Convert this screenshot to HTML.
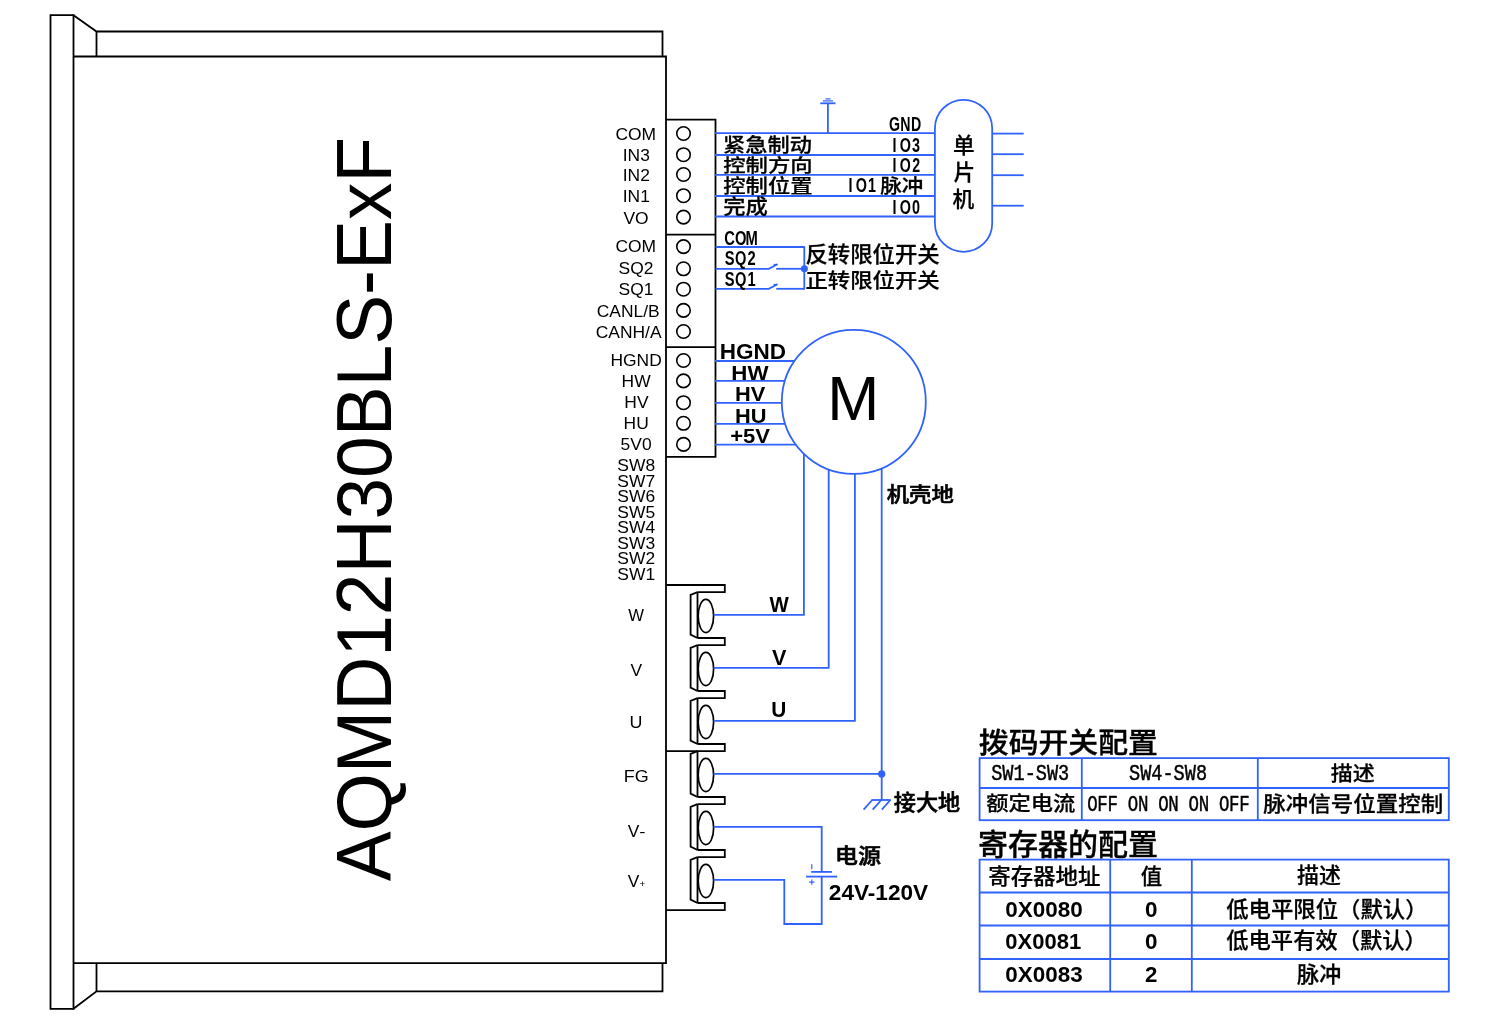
<!DOCTYPE html>
<html lang="zh-CN">
<head>
<meta charset="utf-8">
<title>AQMD12H30BLS-ExF 接线图</title>
<style>
html,body{margin:0;padding:0;background:#fff;}
body{width:1500px;height:1026px;overflow:hidden;}
svg{display:block;will-change:transform;}
text{fill:#000;}
</style>
</head>
<body>
<svg width="1500" height="1026" viewBox="0 0 1500 1026">
<rect width="1500" height="1026" fill="#fff"/>
<polyline points="73.5,15.2 50.5,15.2 50.5,1008.8 73.5,1008.8" stroke="#000" stroke-width="1.8" fill="none" />
<line x1="73.5" y1="14.3" x2="73.5" y2="1009.7" stroke="#000" stroke-width="1.8"/>
<polyline points="73.5,15.2 96.5,31.5 662.5,31.5 662.5,56.5" stroke="#000" stroke-width="1.8" fill="none" />
<line x1="96.5" y1="31.5" x2="96.5" y2="56.5" stroke="#000" stroke-width="1.8"/>
<polyline points="73.5,56.5 666,56.5 666,963.2 73.5,963.2" stroke="#000" stroke-width="1.8" fill="none" />
<polyline points="73.5,1008.8 96.5,991.3 662.5,991.3 662.5,963.2" stroke="#000" stroke-width="1.8" fill="none" />
<line x1="96.5" y1="991.3" x2="96.5" y2="963.2" stroke="#000" stroke-width="1.8"/>
<polyline points="666,119.7 715.5,119.7 715.5,456.8 666,456.8" stroke="#000" stroke-width="1.8" fill="none" />
<line x1="666" y1="234.6" x2="715.5" y2="234.6" stroke="#000" stroke-width="1.8"/>
<line x1="666" y1="347.2" x2="715.5" y2="347.2" stroke="#000" stroke-width="1.8"/>
<circle cx="683.5" cy="133.5" r="6.75" fill="none" stroke="#000" stroke-width="1.6"/>
<circle cx="683.5" cy="154.7" r="6.75" fill="none" stroke="#000" stroke-width="1.6"/>
<circle cx="683.5" cy="174.5" r="6.75" fill="none" stroke="#000" stroke-width="1.6"/>
<circle cx="683.5" cy="195.7" r="6.75" fill="none" stroke="#000" stroke-width="1.6"/>
<circle cx="683.5" cy="217.1" r="6.75" fill="none" stroke="#000" stroke-width="1.6"/>
<circle cx="683.5" cy="246.6" r="6.75" fill="none" stroke="#000" stroke-width="1.6"/>
<circle cx="683.5" cy="268.8" r="6.75" fill="none" stroke="#000" stroke-width="1.6"/>
<circle cx="683.5" cy="289.2" r="6.75" fill="none" stroke="#000" stroke-width="1.6"/>
<circle cx="683.5" cy="310.4" r="6.75" fill="none" stroke="#000" stroke-width="1.6"/>
<circle cx="683.5" cy="331.5" r="6.75" fill="none" stroke="#000" stroke-width="1.6"/>
<circle cx="683.5" cy="360.5" r="6.75" fill="none" stroke="#000" stroke-width="1.6"/>
<circle cx="683.5" cy="380.9" r="6.75" fill="none" stroke="#000" stroke-width="1.6"/>
<circle cx="683.5" cy="402.7" r="6.75" fill="none" stroke="#000" stroke-width="1.6"/>
<circle cx="683.5" cy="423.3" r="6.75" fill="none" stroke="#000" stroke-width="1.6"/>
<circle cx="683.5" cy="444.4" r="6.75" fill="none" stroke="#000" stroke-width="1.6"/>
<text transform="translate(635.8,140.4) scale(1.0500,1)" font-family='"Liberation Sans", sans-serif' font-size="16.6" font-weight="400" text-anchor="middle" >COM</text>
<text transform="translate(636.3,161.4) scale(1.0500,1)" font-family='"Liberation Sans", sans-serif' font-size="16.6" font-weight="400" text-anchor="middle" >IN3</text>
<text transform="translate(636.3,181.2) scale(1.0500,1)" font-family='"Liberation Sans", sans-serif' font-size="16.6" font-weight="400" text-anchor="middle" >IN2</text>
<text transform="translate(636.3,202) scale(1.0500,1)" font-family='"Liberation Sans", sans-serif' font-size="16.6" font-weight="400" text-anchor="middle" >IN1</text>
<text transform="translate(636,223.5) scale(1.0500,1)" font-family='"Liberation Sans", sans-serif' font-size="16.6" font-weight="400" text-anchor="middle" >VO</text>
<text transform="translate(635.8,251.8) scale(1.0500,1)" font-family='"Liberation Sans", sans-serif' font-size="16.6" font-weight="400" text-anchor="middle" >COM</text>
<text transform="translate(636,274.3) scale(1.0500,1)" font-family='"Liberation Sans", sans-serif' font-size="16.6" font-weight="400" text-anchor="middle" >SQ2</text>
<text transform="translate(636,295.4) scale(1.0500,1)" font-family='"Liberation Sans", sans-serif' font-size="16.6" font-weight="400" text-anchor="middle" >SQ1</text>
<text transform="translate(628.2,316.6) scale(1.0500,1)" font-family='"Liberation Sans", sans-serif' font-size="16.6" font-weight="400" text-anchor="middle" >CANL/B</text>
<text transform="translate(628.6,338.3) scale(1.0500,1)" font-family='"Liberation Sans", sans-serif' font-size="16.6" font-weight="400" text-anchor="middle" >CANH/A</text>
<text transform="translate(636.1,366.4) scale(1.0500,1)" font-family='"Liberation Sans", sans-serif' font-size="16.6" font-weight="400" text-anchor="middle" >HGND</text>
<text transform="translate(636.1,386.8) scale(1.0500,1)" font-family='"Liberation Sans", sans-serif' font-size="16.6" font-weight="400" text-anchor="middle" >HW</text>
<text transform="translate(636.4,408.3) scale(1.0500,1)" font-family='"Liberation Sans", sans-serif' font-size="16.6" font-weight="400" text-anchor="middle" >HV</text>
<text transform="translate(636.2,428.6) scale(1.0500,1)" font-family='"Liberation Sans", sans-serif' font-size="16.6" font-weight="400" text-anchor="middle" >HU</text>
<text transform="translate(636.1,450.1) scale(1.0500,1)" font-family='"Liberation Sans", sans-serif' font-size="16.6" font-weight="400" text-anchor="middle" >5V0</text>
<text transform="translate(636.2,471.1) scale(1.0500,1)" font-family='"Liberation Sans", sans-serif' font-size="16.6" font-weight="400" text-anchor="middle" >SW8</text>
<text transform="translate(636.2,486.6) scale(1.0500,1)" font-family='"Liberation Sans", sans-serif' font-size="16.6" font-weight="400" text-anchor="middle" >SW7</text>
<text transform="translate(636.2,502.1) scale(1.0500,1)" font-family='"Liberation Sans", sans-serif' font-size="16.6" font-weight="400" text-anchor="middle" >SW6</text>
<text transform="translate(636.2,517.6) scale(1.0500,1)" font-family='"Liberation Sans", sans-serif' font-size="16.6" font-weight="400" text-anchor="middle" >SW5</text>
<text transform="translate(636.2,533.1) scale(1.0500,1)" font-family='"Liberation Sans", sans-serif' font-size="16.6" font-weight="400" text-anchor="middle" >SW4</text>
<text transform="translate(636.2,548.6) scale(1.0500,1)" font-family='"Liberation Sans", sans-serif' font-size="16.6" font-weight="400" text-anchor="middle" >SW3</text>
<text transform="translate(636.2,564.1) scale(1.0500,1)" font-family='"Liberation Sans", sans-serif' font-size="16.6" font-weight="400" text-anchor="middle" >SW2</text>
<text transform="translate(636.2,579.6) scale(1.0500,1)" font-family='"Liberation Sans", sans-serif' font-size="16.6" font-weight="400" text-anchor="middle" >SW1</text>
<text transform="translate(391.1,881.3) rotate(-90) scale(0.9687,1)" font-family='"Liberation Sans", sans-serif' font-size="77.25">AQMD12H30BLS-ExF</text>
<line x1="714.8" y1="133.2" x2="935" y2="133.2" stroke="#3062fc" stroke-width="1.8"/>
<line x1="714.8" y1="155" x2="935" y2="155" stroke="#3062fc" stroke-width="1.8"/>
<line x1="714.8" y1="174.9" x2="935" y2="174.9" stroke="#3062fc" stroke-width="1.8"/>
<line x1="714.8" y1="196" x2="935" y2="196" stroke="#3062fc" stroke-width="1.8"/>
<line x1="714.8" y1="216.5" x2="935" y2="216.5" stroke="#3062fc" stroke-width="1.8"/>
<line x1="827.9" y1="103.3" x2="827.9" y2="133.2" stroke="#3062fc" stroke-width="1.8"/>
<line x1="820.3" y1="103.3" x2="835.5" y2="103.3" stroke="#3062fc" stroke-width="1.8"/>
<line x1="822.9" y1="100.9" x2="833" y2="100.9" stroke="#3062fc" stroke-width="1.2"/>
<line x1="825.4" y1="98.9" x2="830.5" y2="98.9" stroke="#3062fc" stroke-width="1.2"/>
<rect x="934.9" y="99.8" width="57.3" height="152" rx="28.65" ry="28.65" fill="none" stroke="#3062fc" stroke-width="1.8"/>
<line x1="992.2" y1="133.6" x2="1023.7" y2="133.6" stroke="#3062fc" stroke-width="1.8"/>
<line x1="992.2" y1="154.2" x2="1023.7" y2="154.2" stroke="#3062fc" stroke-width="1.8"/>
<line x1="992.2" y1="175.2" x2="1023.7" y2="175.2" stroke="#3062fc" stroke-width="1.8"/>
<line x1="992.2" y1="205.7" x2="1023.7" y2="205.7" stroke="#3062fc" stroke-width="1.8"/>
<text transform="scale(1.0000,1)" x="953.05 953.41 952.54" y="152.79 179.69 206.95" font-family='"Liberation Sans", "Noto Sans CJK SC", sans-serif' font-size="21.7" font-weight="500" stroke="#000" stroke-width="0.25">单片机</text>
<text transform="translate(722.98,151.54) scale(1.1360,1)" font-family='"Liberation Sans", "Noto Sans CJK SC", sans-serif' font-size="19.57" font-weight="500" text-anchor="start" stroke="#000" stroke-width="0.25">紧急制动</text>
<text transform="translate(723.23,172.21) scale(1.1958,1)" font-family='"Liberation Sans", "Noto Sans CJK SC", sans-serif' font-size="18.73" font-weight="500" text-anchor="start" stroke="#000" stroke-width="0.25">控制方向</text>
<text transform="translate(723.23,192.56) scale(1.1606,1)" font-family='"Liberation Sans", "Noto Sans CJK SC", sans-serif' font-size="19.26" font-weight="500" text-anchor="start" stroke="#000" stroke-width="0.25">控制位置</text>
<text transform="translate(723.31,213.58) scale(1.1027,1)" font-family='"Liberation Sans", "Noto Sans CJK SC", sans-serif' font-size="20.21" font-weight="500" text-anchor="start" stroke="#000" stroke-width="0.25">完成</text>
<text transform="translate(0,130.8) scale(0.7000,1)" x="1277.75 1293.25 1308.75" y="0" font-family='"Liberation Sans", sans-serif' font-size="20.28" font-weight="700" text-anchor="middle" xml:space="preserve">GND</text>
<text transform="translate(0,152.19) scale(0.7000,1)" x="1277.75 1293.25 1308.75" y="0" font-family='"Liberation Sans", sans-serif' font-size="20.56" font-weight="700" text-anchor="middle" xml:space="preserve">IO3</text>
<text transform="translate(0,172) scale(0.7000,1)" x="1277.75 1293.25 1308.75" y="0" font-family='"Liberation Sans", sans-serif' font-size="20.28" font-weight="700" text-anchor="middle" xml:space="preserve">IO2</text>
<text transform="translate(0,213.69) scale(0.7000,1)" x="1277.75 1293.25 1308.75" y="0" font-family='"Liberation Sans", sans-serif' font-size="20.56" font-weight="700" text-anchor="middle" xml:space="preserve">IO0</text>
<text transform="translate(0,192.29) scale(0.7000,1)" x="1214.89 1230.39 1245.89" y="0" font-family='"Liberation Sans", sans-serif' font-size="20.56" font-weight="700" text-anchor="middle" xml:space="preserve">IO1</text>
<text transform="translate(880.17,193.21) scale(1.0842,1)" font-family='"Liberation Sans", "Noto Sans CJK SC", sans-serif' font-size="19.89" font-weight="500" text-anchor="start" stroke="#000" stroke-width="0.25">脉冲</text>
<line x1="715.5" y1="247" x2="804.3" y2="247" stroke="#3062fc" stroke-width="1.8"/>
<line x1="804.3" y1="246.2" x2="804.3" y2="289.6" stroke="#3062fc" stroke-width="1.8"/>
<polyline points="715.5,268.8 768.8,268.8 777.4,264.2" stroke="#3062fc" stroke-width="1.8" fill="none" />
<line x1="773.6" y1="264.5" x2="777.6" y2="264.5" stroke="#3062fc" stroke-width="1.2"/>
<line x1="776.2" y1="268.8" x2="804.3" y2="268.8" stroke="#3062fc" stroke-width="1.8"/>
<polyline points="715.5,288.8 768.8,288.8 777.4,284.2" stroke="#3062fc" stroke-width="1.8" fill="none" />
<line x1="773.6" y1="284.5" x2="777.6" y2="284.5" stroke="#3062fc" stroke-width="1.2"/>
<line x1="776.2" y1="288.8" x2="804.3" y2="288.8" stroke="#3062fc" stroke-width="1.8"/>
<circle cx="804.4" cy="268.8" r="3.5" fill="#3062fc"/>
<text transform="translate(0,245.39) scale(0.7000,1)" x="1042.39 1058.04 1073.68" y="0" font-family='"Liberation Sans", sans-serif' font-size="21.13" font-weight="700" text-anchor="middle" xml:space="preserve">COM</text>
<text transform="translate(0,265.29) scale(0.7000,1)" x="1042.39 1058.04 1073.68" y="0" font-family='"Liberation Sans", sans-serif' font-size="20.99" font-weight="700" text-anchor="middle" xml:space="preserve">SQ2</text>
<text transform="translate(0,286.29) scale(0.7000,1)" x="1042.39 1058.04 1073.68" y="0" font-family='"Liberation Sans", sans-serif' font-size="20.99" font-weight="700" text-anchor="middle" xml:space="preserve">SQ1</text>
<text transform="translate(805.38,262.3) scale(1.0584,1)" font-family='"Liberation Sans", "Noto Sans CJK SC", sans-serif' font-size="21.16" font-weight="500" text-anchor="start" stroke="#000" stroke-width="0.25">反转限位开关</text>
<text transform="translate(805.49,287.93) scale(1.0791,1)" font-family='"Liberation Sans", "Noto Sans CJK SC", sans-serif' font-size="20.74" font-weight="500" text-anchor="start" stroke="#000" stroke-width="0.25">正转限位开关</text>
<line x1="714.8" y1="361" x2="800" y2="361" stroke="#3062fc" stroke-width="1.8"/>
<line x1="714.8" y1="380.9" x2="800" y2="380.9" stroke="#3062fc" stroke-width="1.8"/>
<line x1="714.8" y1="402.8" x2="800" y2="402.8" stroke="#3062fc" stroke-width="1.8"/>
<line x1="714.8" y1="423.9" x2="800" y2="423.9" stroke="#3062fc" stroke-width="1.8"/>
<line x1="714.8" y1="444.6" x2="800" y2="444.6" stroke="#3062fc" stroke-width="1.8"/>
<circle cx="853.8" cy="401.9" r="72" fill="#fff" stroke="#3062fc" stroke-width="1.8"/>
<text transform="translate(827.2,420.4) scale(0.9829,1)" font-family='"Liberation Sans", sans-serif' font-size="63.62" font-weight="400" text-anchor="start" >M</text>
<text transform="translate(719.64,358.98) scale(1.0375,1)" font-family='"Liberation Sans", sans-serif' font-size="21.69" font-weight="700" text-anchor="start" >HGND</text>
<text transform="translate(731.35,379.6) scale(1.0766,1)" font-family='"Liberation Sans", sans-serif' font-size="20.72" font-weight="700" text-anchor="start" >HW</text>
<text transform="translate(734.88,401.1) scale(1.0531,1)" font-family='"Liberation Sans", sans-serif' font-size="20.72" font-weight="700" text-anchor="start" >HV</text>
<text transform="translate(734.88,422.59) scale(1.0393,1)" font-family='"Liberation Sans", sans-serif' font-size="21" font-weight="700" text-anchor="start" >HU</text>
<text transform="translate(730.22,443.09) scale(1.0570,1)" font-family='"Liberation Sans", sans-serif' font-size="20.86" font-weight="700" text-anchor="start" >+5V</text>
<text transform="translate(886.74,501.67) scale(1.0997,1)" font-family='"Liberation Sans", "Noto Sans CJK SC", sans-serif' font-size="20.32" font-weight="500" text-anchor="start" stroke="#000" stroke-width="0.6">机壳地</text>
<line x1="666" y1="585" x2="724.8" y2="585" stroke="#000" stroke-width="1.8"/>
<polyline points="724.8,584.1 724.8,592.2 697.5,592.2" stroke="#000" stroke-width="1.8" fill="none" />
<polyline points="697.5,638 724.8,638 724.8,645.2 697.5,645.2" stroke="#000" stroke-width="1.8" fill="none" />
<polyline points="697.5,691 724.8,691 724.8,698.2 697.5,698.2" stroke="#000" stroke-width="1.8" fill="none" />
<polyline points="697.5,744 724.8,744 724.8,751.2 666,751.2" stroke="#000" stroke-width="1.8" fill="none" />
<polyline points="697.5,797 724.8,797 724.8,804.2 697.5,804.2" stroke="#000" stroke-width="1.8" fill="none" />
<polyline points="697.5,850 724.8,850 724.8,857.2 697.5,857.2" stroke="#000" stroke-width="1.8" fill="none" />
<polyline points="697.5,903 724.8,903 724.8,910.2 666,910.2" stroke="#000" stroke-width="1.8" fill="none" />
<polyline points="697.5,592.2 690.6,594.9 690.6,634.6 697.5,638" stroke="#000" stroke-width="1.8" fill="none" />
<line x1="697.5" y1="592.2" x2="697.5" y2="638" stroke="#000" stroke-width="1.8"/>
<ellipse cx="705.9" cy="616" rx="7.7" ry="16.6" fill="none" stroke="#000" stroke-width="1.7"/>
<polyline points="697.5,645.2 690.6,647.9 690.6,687.6 697.5,691" stroke="#000" stroke-width="1.8" fill="none" />
<line x1="697.5" y1="645.2" x2="697.5" y2="691" stroke="#000" stroke-width="1.8"/>
<ellipse cx="705.9" cy="669" rx="7.7" ry="16.6" fill="none" stroke="#000" stroke-width="1.7"/>
<polyline points="697.5,698.2 690.6,700.9 690.6,740.6 697.5,744" stroke="#000" stroke-width="1.8" fill="none" />
<line x1="697.5" y1="698.2" x2="697.5" y2="744" stroke="#000" stroke-width="1.8"/>
<ellipse cx="705.9" cy="722" rx="7.7" ry="16.6" fill="none" stroke="#000" stroke-width="1.7"/>
<polyline points="697.5,751.2 690.6,753.9 690.6,793.6 697.5,797" stroke="#000" stroke-width="1.8" fill="none" />
<line x1="697.5" y1="751.2" x2="697.5" y2="797" stroke="#000" stroke-width="1.8"/>
<ellipse cx="705.9" cy="775" rx="7.7" ry="16.6" fill="none" stroke="#000" stroke-width="1.7"/>
<polyline points="697.5,804.2 690.6,806.9 690.6,846.6 697.5,850" stroke="#000" stroke-width="1.8" fill="none" />
<line x1="697.5" y1="804.2" x2="697.5" y2="850" stroke="#000" stroke-width="1.8"/>
<ellipse cx="705.9" cy="828" rx="7.7" ry="16.6" fill="none" stroke="#000" stroke-width="1.7"/>
<polyline points="697.5,857.2 690.6,859.9 690.6,899.6 697.5,903" stroke="#000" stroke-width="1.8" fill="none" />
<line x1="697.5" y1="857.2" x2="697.5" y2="903" stroke="#000" stroke-width="1.8"/>
<ellipse cx="705.9" cy="881" rx="7.7" ry="16.6" fill="none" stroke="#000" stroke-width="1.7"/>
<text transform="translate(628.22,621) scale(0.9840,1)" font-family='"Liberation Sans", sans-serif' font-size="16.96" font-weight="400" text-anchor="start" >W</text>
<text transform="translate(630.41,676.2) scale(1.0177,1)" font-family='"Liberation Sans", sans-serif' font-size="17.1" font-weight="400" text-anchor="start" >V</text>
<text transform="translate(629.56,727.53) scale(1.0352,1)" font-family='"Liberation Sans", sans-serif' font-size="17.29" font-weight="400" text-anchor="start" >U</text>
<text transform="translate(623.66,782.43) scale(1.0461,1)" font-family='"Liberation Sans", sans-serif' font-size="17.18" font-weight="400" text-anchor="start" >FG</text>
<text transform="translate(627.71,837) scale(1.0264,1)" font-family='"Liberation Sans", sans-serif' font-size="16.96" font-weight="400" text-anchor="start" >V</text>
<text transform="translate(627.71,886.6) scale(1.0177,1)" font-family='"Liberation Sans", sans-serif' font-size="17.1" font-weight="400" text-anchor="start" >V</text>
<text transform="translate(639.36,836.98) scale(1.2517,1)" font-family='"Liberation Sans", sans-serif' font-size="15" font-weight="400" text-anchor="start" >-</text>
<text transform="translate(639.51,886.58) scale(1.0103,1)" font-family='"Liberation Sans", sans-serif' font-size="9.8" font-weight="400" text-anchor="start" >+</text>
<polyline points="713.6,614.9 803.9,614.9 803.9,453.8" stroke="#3062fc" stroke-width="1.8" fill="none" />
<polyline points="713.6,667.9 828.7,667.9 828.7,469.38" stroke="#3062fc" stroke-width="1.8" fill="none" />
<polyline points="713.6,720.9 854.9,720.9 854.9,473.89" stroke="#3062fc" stroke-width="1.8" fill="none" />
<line x1="881.7" y1="468.27" x2="881.7" y2="800" stroke="#3062fc" stroke-width="1.8"/>
<line x1="713.6" y1="773.9" x2="881.7" y2="773.9" stroke="#3062fc" stroke-width="1.8"/>
<circle cx="881.7" cy="773.9" r="3.6" fill="#3062fc"/>
<text transform="translate(769.4,611.9) scale(0.9332,1)" font-family='"Liberation Sans", sans-serif' font-size="21.88" font-weight="700" text-anchor="start" >W</text>
<text transform="translate(771.89,664.5) scale(0.9906,1)" font-family='"Liberation Sans", sans-serif' font-size="21.88" font-weight="700" text-anchor="start" >V</text>
<text transform="translate(771.35,716.88) scale(0.9658,1)" font-family='"Liberation Sans", sans-serif' font-size="21.57" font-weight="700" text-anchor="start" >U</text>
<line x1="871.5" y1="800" x2="890.8" y2="800" stroke="#3062fc" stroke-width="1.8"/>
<line x1="872.2" y1="800" x2="863.6" y2="809.7" stroke="#3062fc" stroke-width="1.8"/>
<line x1="881.3" y1="800" x2="872.7" y2="809.7" stroke="#3062fc" stroke-width="1.8"/>
<line x1="890.4" y1="800" x2="881.8" y2="809.7" stroke="#3062fc" stroke-width="1.8"/>
<text transform="translate(893.85,809.78) scale(1.0346,1)" font-family='"Liberation Sans", "Noto Sans CJK SC", sans-serif' font-size="21.4" font-weight="500" text-anchor="start" stroke="#000" stroke-width="0.6">接大地</text>
<polyline points="713.6,826.9 821.7,826.9 821.7,871.9" stroke="#3062fc" stroke-width="1.8" fill="none" />
<line x1="811.2" y1="871.9" x2="831.9" y2="871.9" stroke="#3062fc" stroke-width="1.8"/>
<line x1="806.1" y1="876.6" x2="837.2" y2="876.6" stroke="#3062fc" stroke-width="1.8"/>
<polyline points="821.7,876.6 821.7,924 784.3,924 784.3,879.9 713.6,879.9" stroke="#3062fc" stroke-width="1.8" fill="none" />
<line x1="811.8" y1="864.2" x2="811.8" y2="869.3" stroke="#3062fc" stroke-width="1.2"/>
<line x1="809.1" y1="882.1" x2="814.5" y2="882.1" stroke="#3062fc" stroke-width="1.2"/>
<line x1="811.8" y1="879.4" x2="811.8" y2="884.8" stroke="#3062fc" stroke-width="1.2"/>
<text transform="translate(835.04,863.02) scale(1.0953,1)" font-family='"Liberation Sans", "Noto Sans CJK SC", sans-serif' font-size="20.97" font-weight="500" text-anchor="start" stroke="#000" stroke-width="0.6">电源</text>
<text transform="translate(828.81,900.49) scale(1.0566,1)" font-family='"Liberation Sans", sans-serif' font-size="21.41" font-weight="700" text-anchor="start" >24V-120V</text>
<text transform="translate(978.8,752.8) scale(1.0336,1)" font-family='"Liberation Sans", "Noto Sans CJK SC", sans-serif' font-size="28.88" font-weight="500" text-anchor="start" stroke="#000" stroke-width="0.35">拨码开关配置</text>
<rect x="979.6" y="758.1" width="469.2" height="62.1" fill="none" stroke="#3062fc" stroke-width="1.8"/>
<line x1="979.6" y1="788" x2="1448.8" y2="788" stroke="#3062fc" stroke-width="1.8"/>
<line x1="1081.8" y1="758.1" x2="1081.8" y2="820.2" stroke="#3062fc" stroke-width="1.8"/>
<line x1="1257.8" y1="758.1" x2="1257.8" y2="820.2" stroke="#3062fc" stroke-width="1.8"/>
<text transform="translate(0,780.48) scale(0.8600,1)" x="1159.04 1172.01 1184.97 1197.94 1210.9 1223.87 1236.83" y="0" font-family='"Liberation Mono", monospace' font-size="21.62" font-weight="400" text-anchor="middle" xml:space="preserve" stroke="#000" stroke-width="0.45">SW1-SW3</text>
<text transform="translate(0,780.48) scale(0.8600,1)" x="1319.27 1332.24 1345.2 1358.17 1371.13 1384.1 1397.06" y="0" font-family='"Liberation Mono", monospace' font-size="21.62" font-weight="400" text-anchor="middle" xml:space="preserve" stroke="#000" stroke-width="0.45">SW4-SW8</text>
<text transform="translate(1330.85,780.89) scale(1.0921,1)" font-family='"Liberation Sans", "Noto Sans CJK SC", sans-serif' font-size="20.11" font-weight="500" text-anchor="start" stroke="#000" stroke-width="0.25">描述</text>
<text transform="translate(986.22,811.46) scale(1.0913,1)" font-family='"Liberation Sans", "Noto Sans CJK SC", sans-serif' font-size="20.42" font-weight="500" text-anchor="start" stroke="#000" stroke-width="0.25">额定电流</text>
<text transform="translate(0,810.78) scale(0.8000,1)" x="1365.58 1378.24 1390.91 1403.57 1416.23 1428.89 1441.56 1454.22 1466.88 1479.54 1492.21 1504.87 1517.53 1530.19 1542.86 1555.52" y="0" font-family='"Liberation Mono", monospace' font-size="21.76" font-weight="400" text-anchor="middle" xml:space="preserve" stroke="#000" stroke-width="0.45">OFF ON ON ON OFF</text>
<text transform="translate(1263.35,810.91) scale(1.0746,1)" font-family='"Liberation Sans", "Noto Sans CJK SC", sans-serif' font-size="20.95" font-weight="500" text-anchor="start" stroke="#000" stroke-width="0.25">脉冲信号位置控制</text>
<text transform="translate(978.05,854.71) scale(1.0240,1)" font-family='"Liberation Sans", "Noto Sans CJK SC", sans-serif' font-size="29.3" font-weight="500" text-anchor="start" stroke="#000" stroke-width="0.35">寄存器的配置</text>
<rect x="979.6" y="859.6" width="469.2" height="132" fill="none" stroke="#3062fc" stroke-width="1.8"/>
<line x1="979.6" y1="892.5" x2="1448.8" y2="892.5" stroke="#3062fc" stroke-width="1.8"/>
<line x1="979.6" y1="925.5" x2="1448.8" y2="925.5" stroke="#3062fc" stroke-width="1.8"/>
<line x1="979.6" y1="959" x2="1448.8" y2="959" stroke="#3062fc" stroke-width="1.8"/>
<line x1="1110.2" y1="859.6" x2="1110.2" y2="991.6" stroke="#3062fc" stroke-width="1.8"/>
<line x1="1191.8" y1="859.6" x2="1191.8" y2="991.6" stroke="#3062fc" stroke-width="1.8"/>
<text transform="translate(988.16,883.58) scale(1.0512,1)" font-family='"Liberation Sans", "Noto Sans CJK SC", sans-serif' font-size="21.39" font-weight="500" text-anchor="start" stroke="#000" stroke-width="0.25">寄存器地址</text>
<text transform="translate(1140.87,883.57) scale(0.9947,1)" font-family='"Liberation Sans", "Noto Sans CJK SC", sans-serif' font-size="21.51" font-weight="500" text-anchor="start" stroke="#000" stroke-width="0.25">值</text>
<text transform="translate(1296.95,882.89) scale(1.0314,1)" font-family='"Liberation Sans", "Noto Sans CJK SC", sans-serif' font-size="21.29" font-weight="500" text-anchor="start" stroke="#000" stroke-width="0.25">描述</text>
<text transform="translate(1005.3,916.58) scale(1.0372,1)" font-family='"Liberation Sans", sans-serif' font-size="21.69" font-weight="700" text-anchor="start" >0X0080</text>
<text transform="translate(1005.32,948.58) scale(1.0148,1)" font-family='"Liberation Sans", sans-serif' font-size="21.69" font-weight="700" text-anchor="start" >0X0081</text>
<text transform="translate(1005.3,982.18) scale(1.0356,1)" font-family='"Liberation Sans", sans-serif' font-size="21.69" font-weight="700" text-anchor="start" >0X0083</text>
<text transform="translate(1145,916.58) scale(1.0386,1)" font-family='"Liberation Sans", sans-serif' font-size="21.69" font-weight="700" text-anchor="start" >0</text>
<text transform="translate(1145,948.58) scale(1.0386,1)" font-family='"Liberation Sans", sans-serif' font-size="21.69" font-weight="700" text-anchor="start" >0</text>
<text transform="translate(1145.12,982.2) scale(1.0403,1)" font-family='"Liberation Sans", sans-serif' font-size="21.43" font-weight="700" text-anchor="start" >2</text>
<text transform="translate(1226.24,916.84) scale(1.0322,1)" font-family='"Liberation Sans", "Noto Sans CJK SC", sans-serif' font-size="21.68" font-weight="500" text-anchor="start" stroke="#000" stroke-width="0.25">低电平限位（默认）</text>
<text transform="translate(1226.24,948.34) scale(1.0291,1)" font-family='"Liberation Sans", "Noto Sans CJK SC", sans-serif' font-size="21.68" font-weight="500" text-anchor="start" stroke="#000" stroke-width="0.25">低电平有效（默认）</text>
<text transform="translate(1297.06,982.34) scale(1.0119,1)" font-family='"Liberation Sans", "Noto Sans CJK SC", sans-serif' font-size="21.83" font-weight="500" text-anchor="start" stroke="#000" stroke-width="0.25">脉冲</text>
</svg>
</body>
</html>
